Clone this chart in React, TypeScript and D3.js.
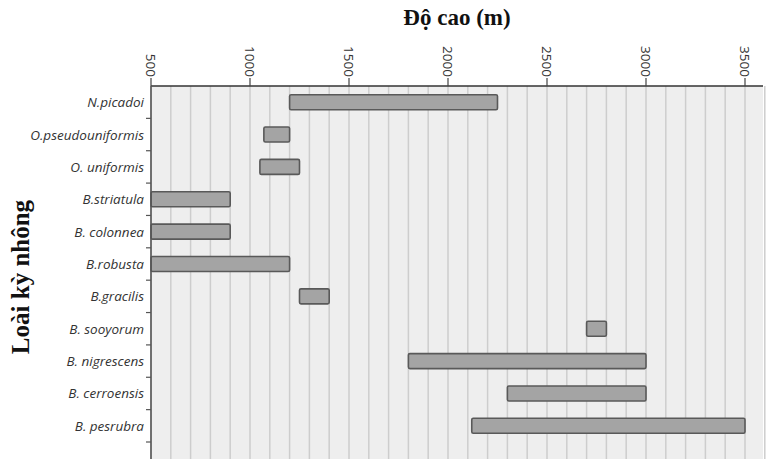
import React from "react";
import * as d3 from "d3";

const species = [
  "N.picadoi",
  "O.pseudouniformis",
  "O. uniformis",
  "B.striatula",
  "B. colonnea",
  "B.robusta",
  "B.gracilis",
  "B. sooyorum",
  "B. nigrescens",
  "B. cerroensis",
  "B. pesrubra",
];
const minAltitude = [1200, 1070, 1050, 500, 500, 500, 1250, 2700, 1800, 2300, 2120];
const maxAltitude = [2250, 1200, 1250, 900, 900, 1200, 1400, 2800, 3000, 3000, 3500];
const tickValues = [500, 1000, 1500, 2000, 2500, 3000, 3500];
const gridValues = d3.range(500, 3700, 100);

const W = 774;
const H = 470;
const left = 151;
const right = 763;
const top = 86;
const bottom = 459;
const bandBottom = 442;

export default function App() {
  const x = d3.scaleLinear().domain([500, 3500]).range([left, 745]);
  const y = d3.scaleBand().domain(species).range([top, bandBottom]).padding(0);
  const barH = 15;
  const step = y.step();
  const rows = species.map((s, i) => ({ s, lo: minAltitude[i], hi: maxAltitude[i] }));
  const sepTicks = d3.range(1, species.length + 1).map((i) => top + i * step);

  return (
    <svg
      width={W}
      height={H}
      style={{ position: "absolute", left: 0, top: 0, background: "#fff" }}
    >
      <rect x={left} y={top} width={right - left} height={bottom - top} fill="#eeeeee" />
      {gridValues.map((v) => (
        <line
          key={v}
          x1={x(v)}
          x2={x(v)}
          y1={top}
          y2={bottom}
          stroke="#cdcdcd"
          strokeWidth={1.5}
        />
      ))}
      {rows.map((r) => (
        <rect
          key={r.s}
          x={x(r.lo)}
          y={(y(r.s) as number) + step / 2 - barH / 2}
          width={x(r.hi) - x(r.lo)}
          height={barH}
          rx={1.5}
          fill="#a4a4a4"
          stroke="#595959"
          strokeWidth={1.6}
        />
      ))}
      {/* top axis */}
      <line x1={left} x2={right} y1={top} y2={top} stroke="#333" strokeWidth={1.6} />
      {tickValues.map((v) => (
        <g key={v} transform={`translate(${x(v)},${top})`}>
          <line y1={0} y2={-8} stroke="#444" strokeWidth={1.2} />
          <text
            transform="translate(0,-9) rotate(90)"
            textAnchor="end"
            dominantBaseline="central"
            fontFamily="'Open Sans', sans-serif"
            fontSize={13.5}
            fill="#333"
          >
            {v}
          </text>
        </g>
      ))}
      {/* left axis */}
      <line x1={left} x2={left} y1={top} y2={bottom} stroke="#555" strokeWidth={1.6} />
      {sepTicks.map((t, i) => (
        <line key={i} x1={left - 5} x2={left} y1={t} y2={t} stroke="#555" strokeWidth={1.2} />
      ))}
      {species.map((s) => (
        <text
          key={s}
          x={left - 7}
          y={(y(s) as number) + step / 2}
          textAnchor="end"
          dominantBaseline="central"
          fontFamily="'Open Sans', sans-serif"
          fontStyle="italic"
          fontSize={13.5}
          fill="#333"
        >
          {s}
        </text>
      ))}
      <text
        x={(left + right) / 2}
        y={25}
        textAnchor="middle"
        fontFamily="'Liberation Serif', 'Times New Roman', serif"
        fontWeight="bold"
        fontSize={23}
        fill="#111"
      >
        Độ cao (m)
      </text>
      <text
        transform="translate(29,277) rotate(-90)"
        textAnchor="middle"
        fontFamily="'Liberation Serif', 'Times New Roman', serif"
        fontWeight="bold"
        fontSize={25}
        fill="#111"
      >
        Loài kỳ nhông
      </text>
    </svg>
  );
}
